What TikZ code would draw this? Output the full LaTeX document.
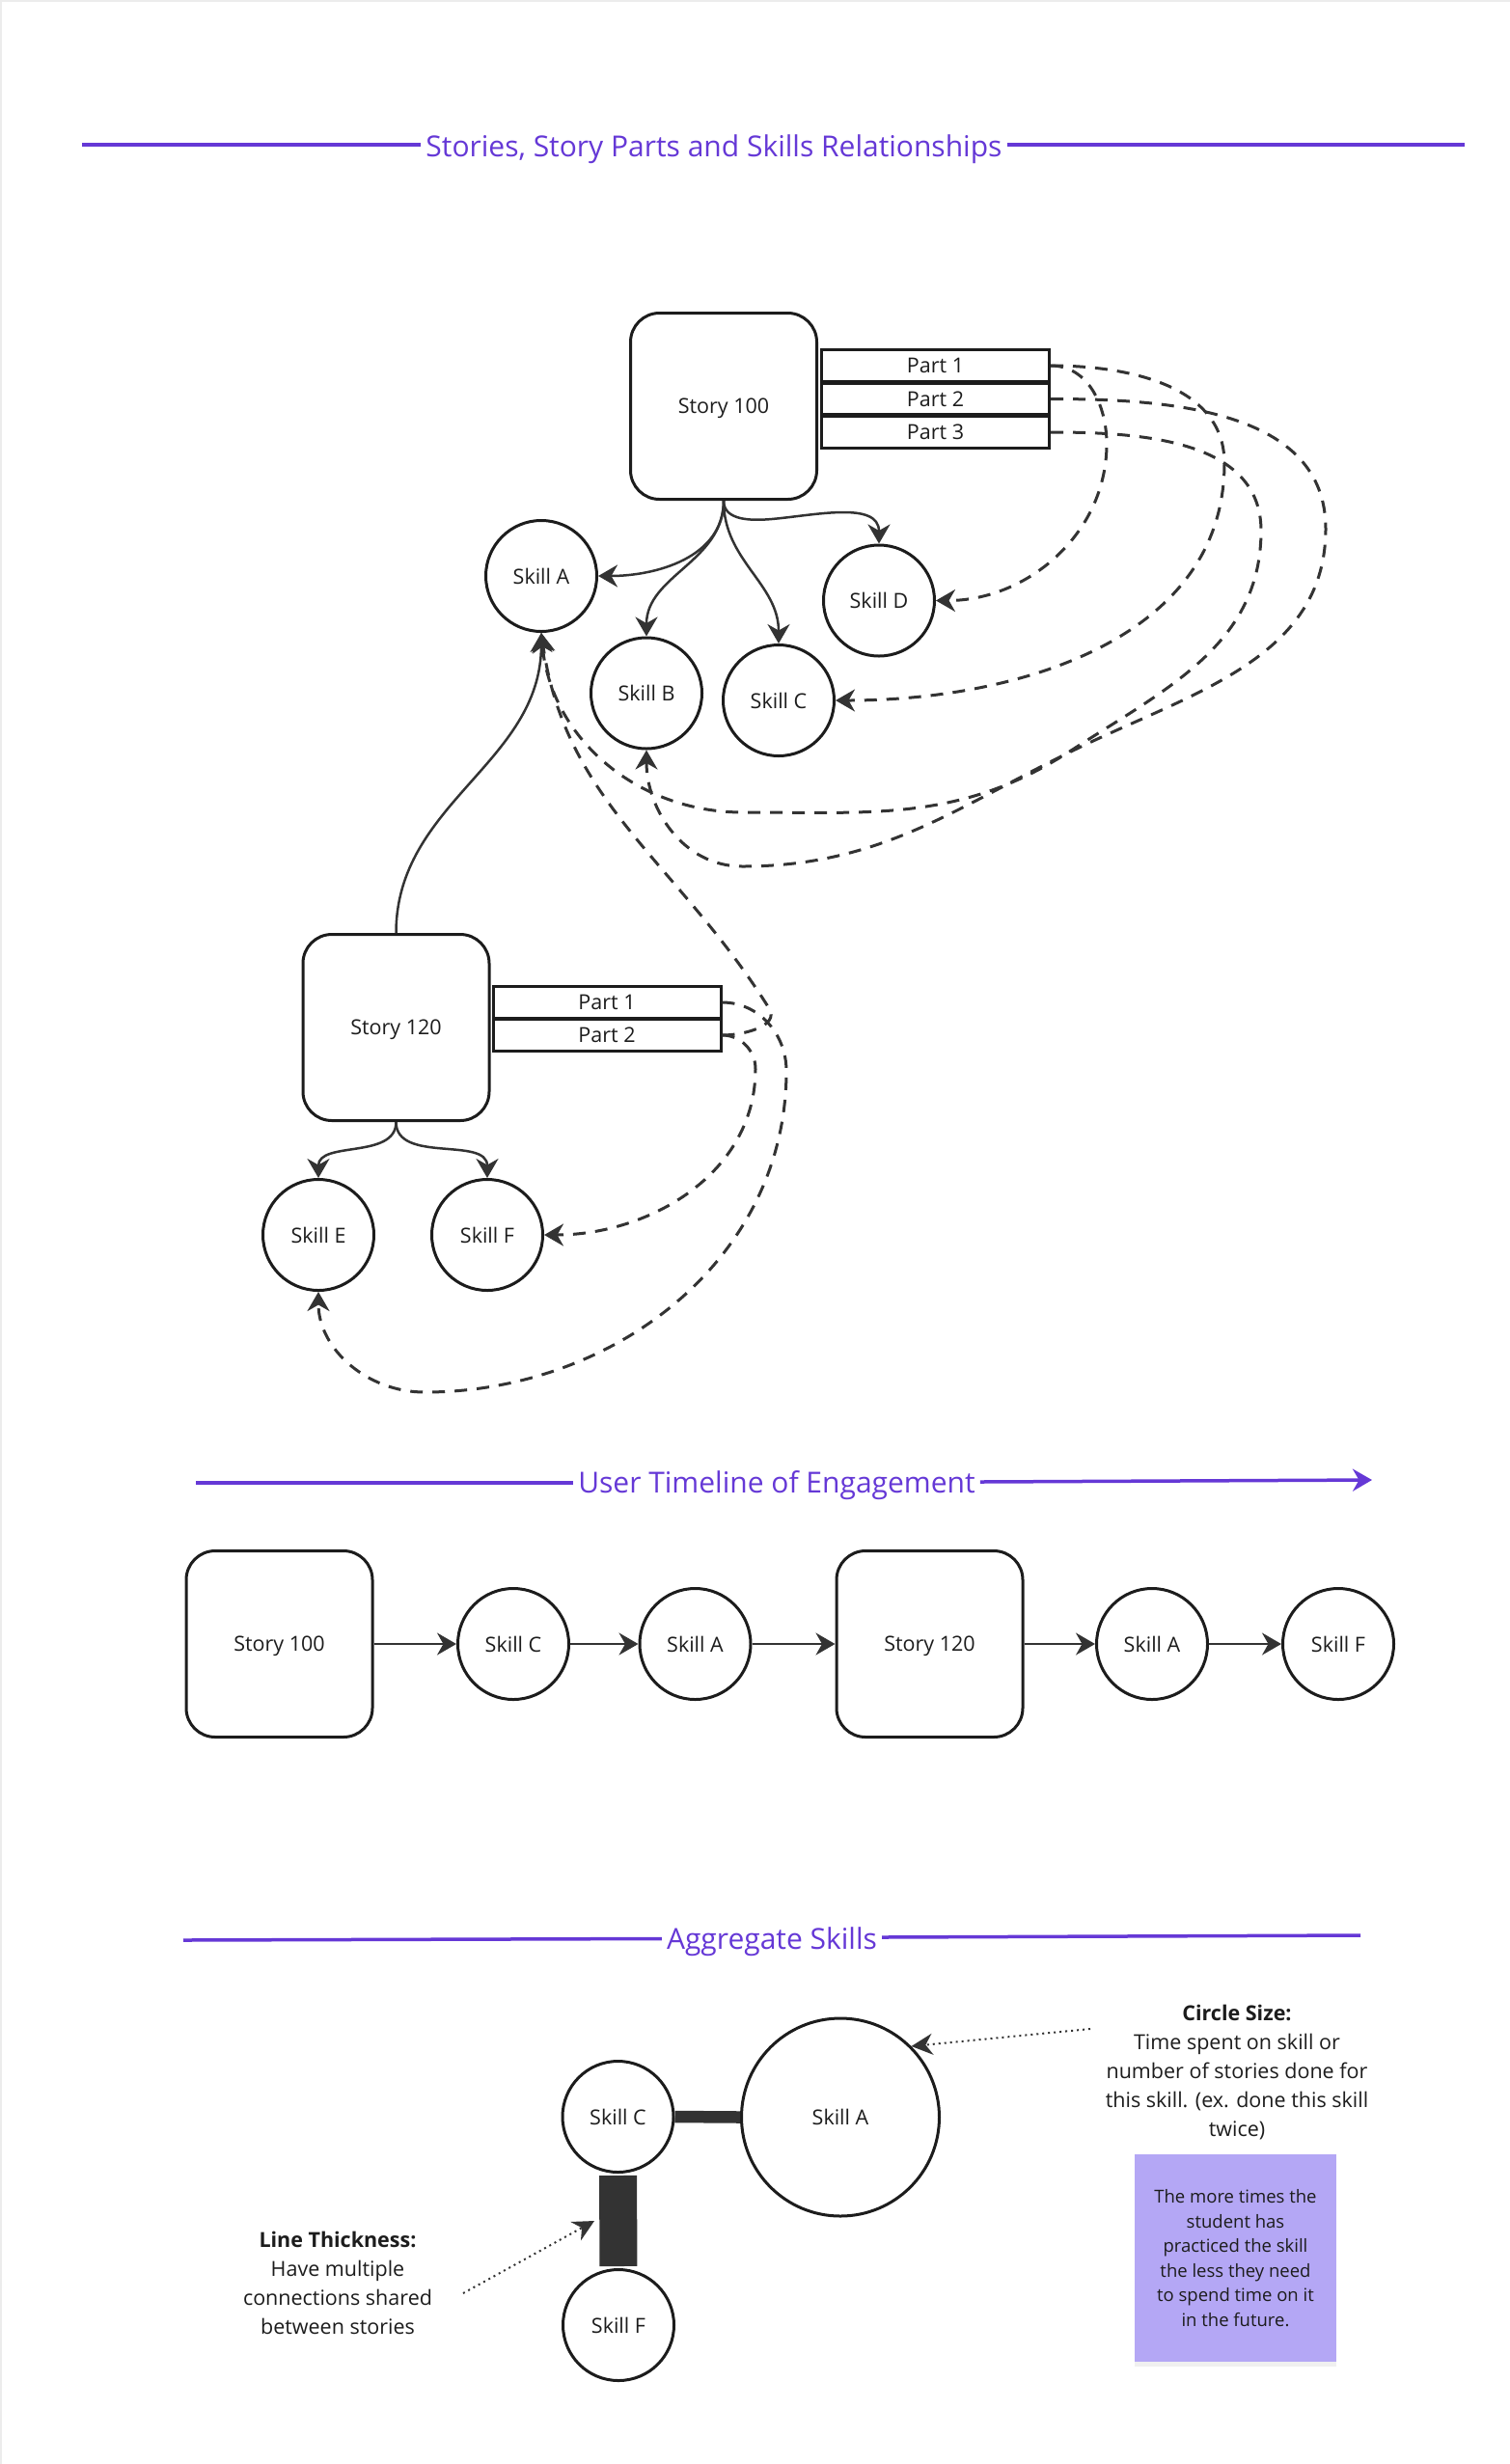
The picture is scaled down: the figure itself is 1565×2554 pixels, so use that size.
\documentclass[tikz,border=0pt]{standalone}
\usepackage{fontspec}
\setmainfont{Open Sans}
\usepackage{tikz}
\usepackage{xcolor}
\usetikzlibrary{arrows.meta,shadows}

\definecolor{titleviolet}{RGB}{101,56,214}
\definecolor{ink}{RGB}{28,28,28}
\definecolor{wire}{RGB}{51,51,51}
\definecolor{notefill}{RGB}{180,167,245}
\definecolor{pageframe}{RGB}{236,236,236}

\newcommand{\nodesize}{\fontsize{21.5}{26}\selectfont}
\newcommand{\headsize}{\fontsize{30}{36}\selectfont}

\begin{document}
\begin{tikzpicture}[x=1pt,y=1pt,
    story/.style={draw=ink, line width=3pt, rounded corners=30pt, minimum width=193pt, minimum height=193pt, text height=16pt, text depth=2pt, font=\nodesize, text=ink},
    part/.style={draw=ink, line width=3pt, minimum width=236pt, minimum height=32.5pt, inner sep=0pt, font=\nodesize, text=ink},
    skill/.style={draw=ink, line width=3pt, circle, minimum size=115pt, inner sep=0pt, font=\nodesize, text=ink},
    link/.style={wire, line width=2.5pt, -{Stealth[length=20pt,width=23pt]}},
    dlink/.style={wire, line width=3pt, dash pattern=on 13pt off 10pt, -{Stealth[length=20pt,width=23pt]}},
    dotlink/.style={wire, line width=2pt, dash pattern=on 2pt off 4pt, -{Stealth[length=22pt,width=22pt]}},
    heading/.style={text=titleviolet, font=\headsize, inner xsep=5pt, anchor=base},
    hline/.style={titleviolet, line width=3.5pt},
    remark/.style={text=ink, align=center, font=\fontsize{21.5}{30}\selectfont}]
    \useasboundingbox (0,0) rectangle (1565,-2554);
    \draw[pageframe, line width=3pt] (0,-2554) -- (0,0) -- (1565,0);

    % stories, parts and skills
    \node[heading] (ttlRel) at (740,-162) {Stories, Story Parts and Skills Relationships};
    \draw[hline] (85,-150) -- (85,-150 -| ttlRel.west);
    \draw[hline] (ttlRel.east |- 0,-150) -- (1518,-150);

    \node[story] (st100) at (750,-421) {Story 100};
    \node[part] (st100p1) at (969.5,-379) {Part 1};
    \node[part] (st100p2) at (969.5,-413.5) {Part 2};
    \node[part] (st100p3) at (969.5,-448) {Part 3};
    \node[skill] (skA) at (561,-597) {Skill A};
    \node[skill] (skB) at (670,-718.5) {Skill B};
    \node[skill] (skC) at (807,-726) {Skill C};
    \node[skill] (skD) at (911,-622.5) {Skill D};

    \node[story] (st120) at (410.5,-1065) {Story 120};
    \node[part] (st120p1) at (629,-1039) {Part 1};
    \node[part] (st120p2) at (629,-1073) {Part 2};
    \node[skill] (skE) at (330,-1280) {Skill E};
    \node[skill] (skF) at (505,-1280) {Skill F};

    \draw[link] (st100.south) to[out=-90,in=0] (skA.east);
    \draw[link] (st100.south) to[out=-90,in=90] (skB.north);
    \draw[link] (st100.south) to[out=-90,in=90] (skC.north);
    \draw[link] (st100.south) to[out=-90,in=185] (800,-538) to[out=5,in=90] (skD.north);
    \draw[link] (st120.north) to[out=90,in=-90] (skA.south);
    \draw[link] (st120.south) to[out=-90,in=90] (skE.north);
    \draw[link] (st120.south) to[out=-90,in=90] (skF.north);

    \draw[dlink] (st100p1.east) to[out=0,in=90] (1147,-460) to[out=-90,in=0] (skD.east);
    \draw[dlink] (st100p1.east) to[out=0,in=90] (1269,-480) to[out=-90,in=0] (skC.east);
    \draw[dlink] (st100p2.east) to[out=0,in=90] (1374,-548) to[out=-90,in=25] (1133,-768)
        to[out=205,in=0] (769,-898) to[out=180,in=-90] (skB.south);
    \draw[dlink] (st100p3.east) to[out=0,in=90] (1307,-550) to[out=-90,in=33] (1110,-778)
        to[out=213,in=0] (770,-842) to[out=180,in=-85] (skA.south);
    \draw[dlink] (st120p2.east) to[out=0,in=-58] (797,-1045) to[out=122,in=-82] (skA.south);
    \draw[dlink] (st120p1.east) to[out=0,in=90] (815,-1110) to[out=-90,in=0] (440,-1443)
        to[out=180,in=-90] (skE.south);
    \draw[dlink] (st120p2.east) to[out=0,in=90] (783,-1108) to[out=-90,in=0] (skF.east);

    % timeline
    \node[heading] (ttlTime) at (805,-1547) {User Timeline of Engagement};
    \draw[hline] (203,-1537) -- (203,-1537 -| ttlTime.west);
    \draw[hline, -{Stealth[length=20pt,width=23pt]}] (ttlTime.east |- 0,-1536) -- (1422,-1534);

    \node[story] (tst100) at (289.5,-1704) {Story 100};
    \node[skill] (tskC) at (532,-1704) {Skill C};
    \node[skill] (tskA) at (720.5,-1704) {Skill A};
    \node[story] (tst120) at (963.5,-1704) {Story 120};
    \node[skill] (tskA2) at (1194,-1704) {Skill A};
    \node[skill] (tskF) at (1387,-1704) {Skill F};
    \draw[link, line width=2pt] (tst100) -- (tskC);
    \draw[link, line width=2pt] (tskC) -- (tskA);
    \draw[link, line width=2pt] (tskA) -- (tst120);
    \draw[link, line width=2pt] (tst120) -- (tskA2);
    \draw[link, line width=2pt] (tskA2) -- (tskF);

    % aggregate skills
    \node[heading] (ttlAgg) at (800,-2020) {Aggregate Skills};
    \draw[hline] (190,-2011) -- (190,-2009.5 -| ttlAgg.west);
    \draw[hline] (ttlAgg.east |- 0,-2008) -- (1410,-2006);

    \node[skill] (aggC) at (640.5,-2194) {Skill C};
    \node[skill, minimum size=205pt] (aggA) at (871,-2194.5) {Skill A};
    \node[skill] (aggF) at (641,-2410) {Skill F};
    \draw[wire, line width=12.5pt] (aggC.east) -- (aggA.west);
    \draw[wire, line width=39pt, shorten <=2pt, shorten >=2pt] (aggC.south) -- (aggF.north);

    \node[remark] (csText) at (1282,-2148) {\textbf{Circle Size:}\\Time spent on skill or\\number of stories done for\\this skill. (ex. done this skill\\twice)};
    \coordinate (csFrom) at (1130,-2103);
    \draw[dotlink] (csFrom) -- (aggA.north east);

    \node[remark] (ltText) at (350,-2366) {\textbf{Line Thickness:}\\Have multiple\\connections shared\\between stories};
    \coordinate (ltFrom) at (480,-2377);
    \coordinate (ltTo) at (616,-2302);
    \draw[dotlink] (ltFrom) -- (ltTo);

    \node[fill=notefill, minimum width=209pt, minimum height=215pt, align=center, text=ink,
        font=\fontsize{18.5}{25.6}\selectfont,
        drop shadow={shadow xshift=0pt, shadow yshift=-5pt, opacity=0.12}] (noteBox) at (1280.5,-2340.5)
        {The more times the\\student has\\practiced the skill\\the less they need\\to spend time on it\\in the future.};
\end{tikzpicture}
\end{document}
